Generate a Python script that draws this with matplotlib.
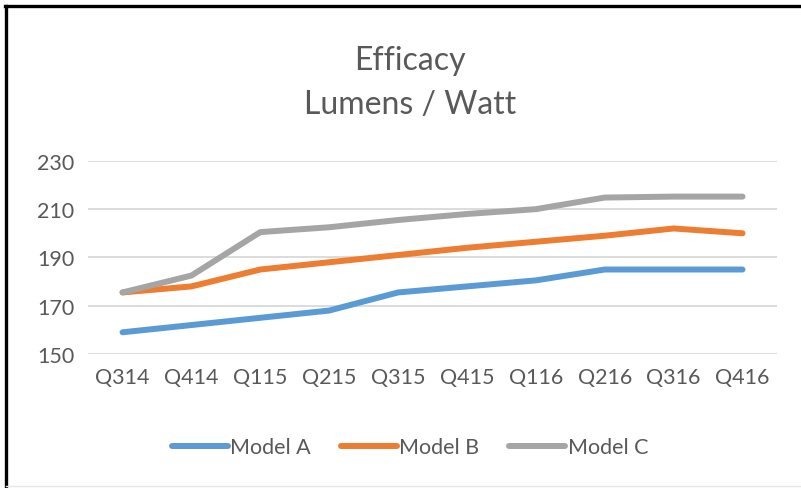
import matplotlib.pyplot as plt
from matplotlib.lines import Line2D

quarters = ['Q314', 'Q414', 'Q115', 'Q215', 'Q315', 'Q415', 'Q116', 'Q216', 'Q316', 'Q416']
model_a = [159, 162, 165, 168, 175.5, 178, 180.5, 185, 185, 185]
model_b = [175.5, 178, 185, 188, 191, 194, 196.5, 199, 202, 200]
model_c = [175.5, 182.5, 200.5, 202.5, 205.5, 208, 210, 214.8, 215.2, 215.2]
yticks = [150, 170, 190, 210, 230]

text_col = '#595959'
plt.rcParams['font.family'] = ['Lato', 'DejaVu Sans']

fig = plt.figure(figsize=(8.01, 4.89), dpi=100)
ax = fig.add_axes([0.110, 0.274, 0.860, 0.395])

x = range(len(quarters))
ax.plot(x, model_a, color='#5B9BD5', lw=4.3, solid_capstyle='round', label='Model A')
ax.plot(x, model_b, color='#ED7D31', lw=4.3, solid_capstyle='round', label='Model B')
ax.plot(x, model_c, color='#A5A5A5', lw=4.3, solid_capstyle='round', label='Model C')

ax.set_xlim(-0.5, len(quarters) - 0.5)
ax.set_ylim(150, 230)
ax.set_yticks(yticks)
ax.set_xticks(list(x))
ax.set_xticklabels(quarters)
ax.grid(axis='y', color='#D9D9D9', lw=1.3)
ax.set_axisbelow(True)
for s in ax.spines.values():
    s.set_visible(False)
ax.tick_params(length=0, labelsize=15.5, colors=text_col, pad=9)
ax.tick_params(axis='y', pad=10)

fig.text(0.512, 0.875, 'Efficacy', ha='center', va='center', fontsize=23, color=text_col)
fig.text(0.512, 0.786, 'Lumens / Watt', ha='center', va='center', fontsize=23, color=text_col)

leg = fig.legend(loc='center', bbox_to_anchor=(0.512, 0.083), ncol=3, frameon=False,
                 fontsize=15.5, handlelength=2.6, handletextpad=0.1, columnspacing=1.4)
for t in leg.get_texts():
    t.set_color(text_col)

# border of the chart area
fig.add_artist(Line2D([0.006, 1.0], [0.986, 0.986], color='black', lw=2.4, transform=fig.transFigure))
fig.add_artist(Line2D([0.0075, 0.0075], [0.0, 0.986], color='black', lw=2.4, transform=fig.transFigure))
fig.add_artist(Line2D([0.0075, 1.0], [0.005, 0.005], color='#E6E6E6', lw=1, transform=fig.transFigure))

fig.savefig('out.png', dpi=100)
